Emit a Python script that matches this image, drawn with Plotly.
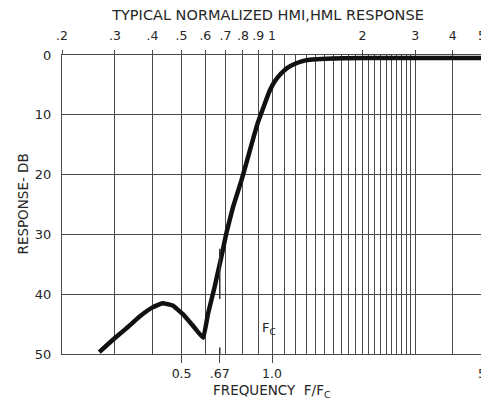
import numpy as np
import plotly.graph_objects as go

# ---- data ----
freq = [0.266, 0.294, 0.326, 0.361, 0.400, 0.432, 0.467, 0.504, 0.544, 0.590,
        0.612, 0.644, 0.678, 0.704, 0.742, 0.792, 0.850, 0.896, 0.942, 0.980,
        1.018, 1.072, 1.128, 1.188, 1.248, 1.314, 1.458, 1.74, 2.5, 5.0]
resp_db = [49.7, 47.7, 45.8, 43.8, 42.2, 41.5, 41.9, 43.3, 45.2, 47.3,
           43.3, 38.8, 33.8, 29.9, 25.4, 20.9, 15.4, 11.4, 8.4, 6.1,
           4.5, 3.1, 2.1, 1.5, 1.1, 0.84, 0.67, 0.55, 0.5, 0.5]

# .67 marker segments
mark_x = [0.67, 0.67]
mark_y = [32.4, 40.8]
mark2_y = [48.9, 50]

top_vals = [0.2, 0.3, 0.4, 0.5, 0.6, 0.7, 0.8, 0.9, 1, 2, 3, 4, 5]
top_text = [".2", ".3", ".4", ".5", ".6", ".7", ".8", ".9", "1", "2", "3", "4", "5"]
bottom_vals = [0.5, 0.67, 1.0, 5]
bottom_text = ["0.5", ".67", "1.0", "5"]
grid_vals = ([round(0.1 * i, 1) for i in range(2, 11)]
             + [round(1 + 0.1 * i, 1) for i in range(1, 21)] + [4, 5])
y_vals = [0, 10, 20, 30, 40, 50]

INK = "#262626"
GRID = "#4a4a4a"
FONT = "DejaVu Sans"
eps = 2e-4
xr = [np.log10(0.2) - eps, np.log10(5) + eps]

# page body has an 8px margin: figure is sized/offset to compensate
W, H = 481, 395

fig = go.Figure()
fig.add_trace(go.Scatter(x=freq, y=resp_db, mode="lines",
                         line=dict(color="#111111", width=4.5, shape="spline", smoothing=0.3),
                         hoverinfo="skip"))
fig.add_trace(go.Scatter(x=mark_x, y=mark_y, mode="lines",
                         line=dict(color="#333333", width=1.5), hoverinfo="skip"))
fig.add_trace(go.Scatter(x=mark_x, y=mark2_y, mode="lines",
                         line=dict(color="#333333", width=1.5), hoverinfo="skip"))
fig.add_trace(go.Scatter(x=[None], y=[None], xaxis="x2", hoverinfo="skip"))
fig.add_trace(go.Scatter(x=[None], y=[None], xaxis="x3", hoverinfo="skip"))

fig.update_layout(
    width=W, height=H,
    margin=dict(l=54, r=7, t=47, b=49, autoexpand=False),
    paper_bgcolor="white", plot_bgcolor="white",
    showlegend=False,
    font=dict(family=FONT, color=INK, size=12),
    title=dict(text="TYPICAL NORMALIZED HMI,HML RESPONSE", x=260 / W, xanchor="center",
               y=1 - 7 / H, yanchor="middle", font=dict(size=14.5, color=INK)),
    xaxis=dict(type="log", range=xr, tickmode="array", tickvals=grid_vals, automargin=False,
               showticklabels=False, ticks="", showgrid=True, gridcolor=GRID, gridwidth=1,
               showline=True, mirror=True, linecolor=GRID, linewidth=1, zeroline=False),
    xaxis2=dict(type="log", range=xr, overlaying="x", side="top", anchor="y", automargin=False,
                tickmode="array", tickvals=top_vals, ticktext=top_text,
                ticks="outside", ticklen=4, tickcolor=GRID, ticklabelstandoff=5,
                ticklabeloverflow="allow",
                showgrid=False, showline=False, zeroline=False,
                tickfont=dict(size=12.5, color=INK)),
    xaxis3=dict(type="log", range=xr, overlaying="x", side="bottom", anchor="y", automargin=False,
                tickmode="array", tickvals=bottom_vals, ticktext=bottom_text,
                ticks="outside", ticklen=8, tickcolor=GRID, tickwidth=1.2,
                ticklabeloverflow="allow",
                showgrid=False, showline=False, zeroline=False,
                tickfont=dict(size=12.5, color=INK)),
    yaxis=dict(range=[50, 0], tickmode="array", tickvals=y_vals, automargin=False,
               ticks="", ticklabelstandoff=7, showgrid=True, gridcolor=GRID, gridwidth=1,
               showline=True, mirror=True, linecolor=GRID, linewidth=1, zeroline=False,
               tickfont=dict(size=13, color=INK)),
)

fig.add_annotation(text="RESPONSE- DB", textangle=-90, xref="paper", yref="paper",
                   x=(22 - 62) / 420, y=0.5, xanchor="center", yanchor="middle",
                   showarrow=False, font=dict(size=13.5, color=INK))
fig.add_annotation(text="FREQUENCY  F/F<sub>C</sub>", xref="paper", yref="paper",
                   x=(272 - 62) / 420, y=-(391 - 354) / 299, xanchor="center", yanchor="middle",
                   showarrow=False, font=dict(size=13.5, color=INK))
fig.add_annotation(text="F<sub>C</sub>", xref="x", yref="y",
                   x=np.log10(0.975), y=45.8, xanchor="center", yanchor="middle",
                   showarrow=False, font=dict(size=13, color=INK))

fig.write_html("out.html")
